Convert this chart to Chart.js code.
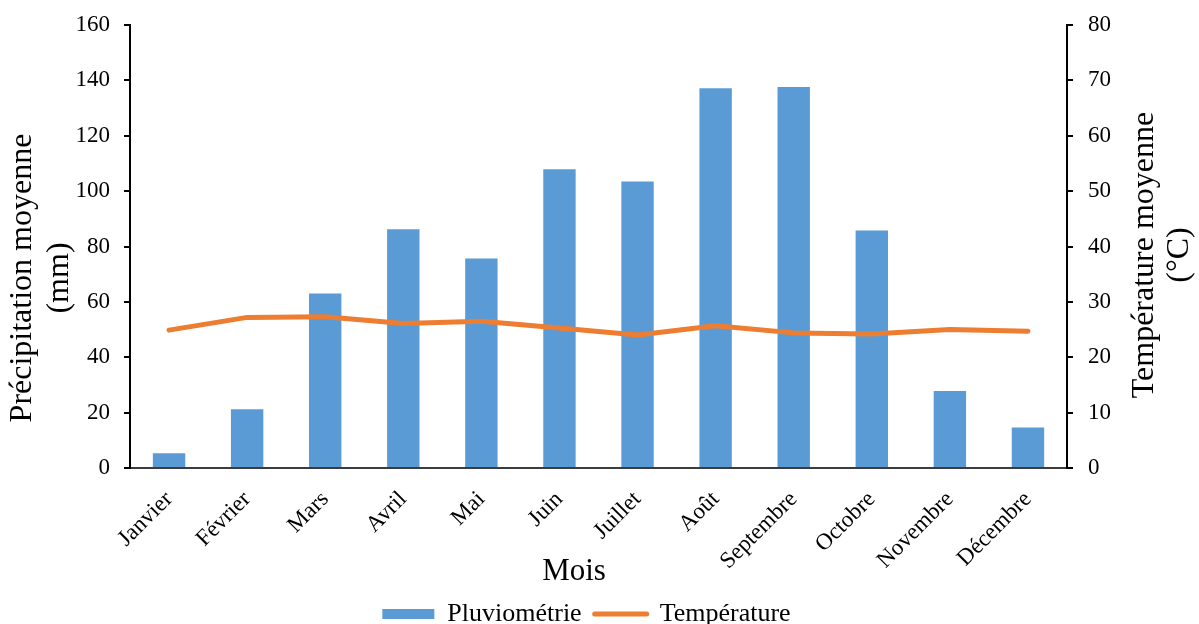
<!DOCTYPE html>
<html lang="fr">
<head>
<meta charset="utf-8">
<title>Pluviométrie et température moyennes mensuelles</title>
<script src="https://cdn.jsdelivr.net/npm/chart.js@4/dist/chart.umd.min.js"></script>
<style>
  html, body { margin: 0; padding: 0; background: #ffffff; }
  #wrap { width: 1199px; height: 624px; }
</style>
</head>
<body>
<div id="wrap"><canvas id="c" width="1199" height="624"></canvas></div>
<script>
// Monthly values
const mois = ['Janvier', 'Février', 'Mars', 'Avril', 'Mai', 'Juin', 'Juillet', 'Août', 'Septembre', 'Octobre', 'Novembre', 'Décembre'];
const pluviometrie = [5.3, 21.2, 63.0, 86.2, 75.7, 107.9, 103.5, 137.2, 137.6, 85.8, 27.8, 14.6];
const temperature = [24.9, 27.2, 27.3, 26.1, 26.5, 25.3, 24.0, 25.7, 24.4, 24.2, 25.0, 24.7];

// Axis titles
const titreGauche = ['Précipitation moyenne', '(mm)'];
const titreDroite = ['Température moyenne', '(°C)'];
const titreBas = 'Mois';

const SERIF = '"Liberation Serif", "Times New Roman", serif';
const BLEU = '#5B9BD5';
const ORANGE = '#ED7D31';

// Axis titles: the two vertical ones read bottom-to-top
const axisTitles = {
  id: 'axisTitles',
  afterLayout(chart) {
    // legend block sits slightly left of the canvas centre
    const lg = chart.legend;
    if (lg) { lg.left -= 13; lg.right -= 13; }
  },
  afterDraw(chart) {
    const ctx = chart.ctx;
    const drawTitle = (lines, x, y, gap) => {
      ctx.save();
      ctx.translate(x, y);
      ctx.rotate(-Math.PI / 2);
      ctx.fillStyle = '#000000';
      ctx.font = '32px ' + SERIF;
      ctx.textAlign = 'center';
      ctx.textBaseline = 'middle';
      lines.forEach((t, i) => ctx.fillText(t, 0, i * gap));
      ctx.restore();
    };
    drawTitle(titreGauche, 23, 278, 37);
    drawTitle(titreDroite, 1145, 255, 35);

    ctx.save();
    ctx.fillStyle = '#000000';
    ctx.font = '31px ' + SERIF;
    ctx.textAlign = 'center';
    ctx.textBaseline = 'middle';
    ctx.fillText(titreBas, 574, 572);
    ctx.restore();
  }
};

new Chart(document.getElementById('c'), {
  data: {
    labels: mois,
    datasets: [
      {
        type: 'line',
        label: 'Température',
        data: temperature,
        yAxisID: 'y1',
        borderColor: ORANGE,
        backgroundColor: ORANGE,
        borderWidth: 5,
        borderCapStyle: 'round',
        borderJoinStyle: 'round',
        pointRadius: 0,
        pointHoverRadius: 0,
        tension: 0,
        fill: false,
        order: 0
      },
      {
        type: 'bar',
        label: 'Pluviométrie',
        data: pluviometrie,
        yAxisID: 'y',
        backgroundColor: BLEU,
        borderWidth: 0,
        barPercentage: 0.415,
        categoryPercentage: 1.0,
        order: 1
      }
    ]
  },
  options: {
    responsive: false,
    animation: false,
    events: [],
    layout: { padding: { top: 25, left: 0, right: 0, bottom: -13 } },
    plugins: {
      tooltip: { enabled: false },
      legend: {
        position: 'bottom',
        labels: {
          font: { family: SERIF, size: 26 },
          color: '#000000',
          usePointStyle: true,
          pointStyleWidth: 52,
          boxHeight: 10,
          padding: 13,
          generateLabels(chart) {
            const items = Chart.defaults.plugins.legend.labels.generateLabels(chart);
            items.forEach(it => {
              if (it.text === 'Pluviométrie') {
                it.pointStyle = 'rect';
                it.fillStyle = BLEU;
                it.strokeStyle = BLEU;
                it.lineWidth = 0;
              } else {
                it.pointStyle = 'line';
                it.strokeStyle = ORANGE;
                it.lineWidth = 5;
                it.lineCap = 'round';
              }
            });
            // bar series first, then the line
            return items.sort((a, b) => (a.text === 'Pluviométrie' ? -1 : 1));
          }
        }
      }
    },
    scales: {
      x: {
        offset: true,
        grid: { display: false, drawTicks: false },
        border: { display: true, color: '#3c3c3c', width: 2 },
        ticks: {
          minRotation: 45,
          maxRotation: 45,
          padding: 18,
          color: '#000000',
          font: { family: SERIF, size: 23 }
        },
        afterFit(scale) { scale.height = 120; }
      },
      y: {
        position: 'left',
        min: 0,
        max: 160,
        ticks: {
          stepSize: 20,
          padding: 14,
          color: '#000000',
          font: { family: SERIF, size: 23, lineHeight: 0.85 }
        },
        grid: { display: true, drawOnChartArea: false, drawTicks: true, tickLength: 6, color: '#000000', lineWidth: 2 },
        border: { display: true, color: '#000000', width: 2 },
        afterFit(scale) { scale.width = 130; }
      },
      y1: {
        position: 'right',
        min: 0,
        max: 80,
        ticks: {
          stepSize: 10,
          padding: 15,
          color: '#000000',
          font: { family: SERIF, size: 23, lineHeight: 0.85 }
        },
        grid: { display: true, drawOnChartArea: false, drawTicks: true, tickLength: 6, color: '#000000', lineWidth: 2 },
        border: { display: true, color: '#000000', width: 2 },
        afterFit(scale) { scale.width = 132; }
      }
    }
  },
  plugins: [axisTitles]
});
</script>
</body>
</html>
